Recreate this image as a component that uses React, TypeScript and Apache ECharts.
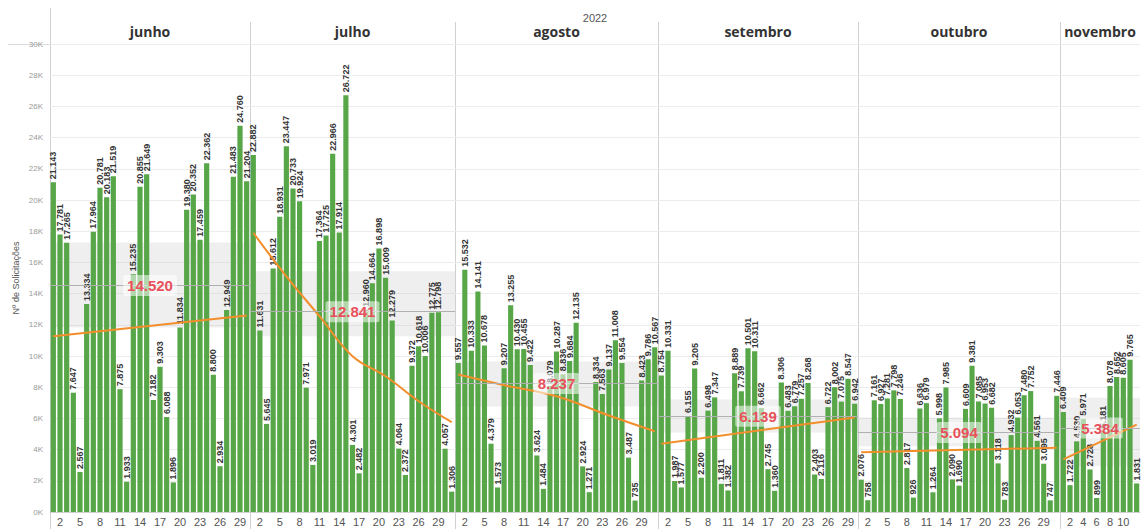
import React, { useEffect, useRef } from "react";
import * as echarts from "echarts";

// ---------- data ----------
const months = ["junho", "julho", "agosto", "setembro", "outubro", "novembro"];

const junho = [21143, 17781, 17265, 7647, 2567, 13334, 17964, 20781, 20183, 21519, 7875, 1933, 15235, 20855, 21649, 7182, 9303, 6088, 1896, 11834, 19380, 20352, 17459, 22362, 8800, 2934, 12949, 21483, 24760, 21204];
const julho = [22882, 11631, 5645, 15612, 18931, 23447, 20733, 19924, 7971, 3019, 17364, 17725, 22966, 17914, 26722, 4301, 2482, 12960, 14664, 16898, 15009, 12279, 4064, 2372, 9372, 10618, 10006, 12775, 12798, 4057, 1306];
const agosto = [9557, 15532, 10333, 14141, 10678, 4379, 1573, 9207, 13255, 10430, 10455, 9422, 3624, 1484, 8079, 10287, 8836, 9684, 12135, 2924, 1271, 8334, 7563, 9137, 11008, 9554, 3487, 735, 8423, 9786, 10567];
const setembro = [8754, 10331, 1987, 1577, 6155, 9205, 2200, 6498, 7347, 1811, 1382, 8889, 7739, 10501, 10311, 6662, 2745, 1360, 8306, 6483, 6779, 7257, 8268, 2403, 2116, 6722, 8002, 7075, 8547, 6942];
const outubro = [2076, 758, 7161, 6927, 7281, 7798, 7246, 2817, 926, 6636, 6979, 1264, 5998, 7985, 2090, 1690, 6609, 9381, 7085, 6953, 6682, 3118, 783, 4932, 6053, 7480, 7752, 4561, 3095, 747, 7446];
const novembro = [6409, 1722, 4530, 5971, 2728, 899, 5181, 8078, 8652, 8605, 9765, 1831];

const monthValues = [junho, julho, agosto, setembro, outubro, novembro];

// monthly average (reference line) and its band
const monthAverage = [14520, 12841, 8237, 6139, 5094, 5384];
const bandLow = [11830, 11270, 6760, 5100, 4220, 2940];
const bandHigh = [17280, 15440, 9650, 7210, 6060, 7320];

// trend lines: [day, value]
const trendJunho = [[1, 11270], [30, 12600]];
const trendJulho = [[1, 17900], [6, 15100], [11, 12550], [16, 9990], [21, 8700], [26, 7100], [31, 5760]];
const trendAgosto = [[1, 8810], [8, 8130], [16, 7420], [24, 6190], [31, 5180]];
const trendSetembro = [[1, 4370], [30, 6060]];
const trendOutubro = [[1, 3830], [31, 4120]];
const trendNovembro = [[1, 3370], [12, 5600]];
const monthTrends = [trendJunho, trendJulho, trendAgosto, trendSetembro, trendOutubro, trendNovembro];
const trendSmooth = [false, true, true, false, false, false];

// day tick labels shown under each month
const tickDays = [
  [2, 5, 8, 11, 14, 17, 20, 23, 26, 29],
  [2, 5, 8, 11, 14, 17, 20, 23, 26, 29],
  [2, 5, 8, 11, 14, 17, 20, 23, 26, 29],
  [2, 5, 8, 11, 14, 17, 20, 23, 26, 29],
  [2, 5, 8, 11, 14, 17, 20, 23, 26, 29],
  [2, 4, 6, 8, 10],
];
const yearLabel = "2022";
const yAxisTitle = "Nº de Solicitações";

// ---------- layout ----------
const BOUNDS = [50, 250, 455, 658, 858, 1060, 1140];
const TOP = 44;
const PLOT_H = 468;

const fmt = (v: number) => String(Math.round(v)).replace(/\B(?=(\d{3})+(?!\d))/g, ".");

export default function App() {
  const ref = useRef<HTMLDivElement>(null);

  useEffect(() => {
    if (!ref.current) return;
    const chart = echarts.init(ref.current, undefined, { renderer: "svg" });
    const n = months.length;

    const grids = months.map((_, i) => ({
      left: BOUNDS[i],
      top: TOP,
      width: BOUNDS[i + 1] - BOUNDS[i],
      height: PLOT_H,
    }));

    const daysOf = (i: number) => monthValues[i].map((_, k) => String(k + 1));

    const bottomAxes = months.map((_, i) => ({
      type: "category",
      gridIndex: i,
      data: daysOf(i),
      axisTick: { show: false },
      axisLine: { show: true, lineStyle: { color: "#d0d0d0" } },
      axisLabel: {
        interval: (_idx: number, value: string) => tickDays[i].includes(Number(value)),
        fontSize: 11,
        color: "#555",
        margin: 4,
        fontFamily: "Liberation Sans",
      },
    }));
    const topAxes = months.map((m, i) => ({
      type: "category",
      gridIndex: i,
      position: "top",
      data: daysOf(i),
      axisLine: { show: false },
      axisTick: { show: false },
      axisLabel: { show: false },
      name: m,
      nameLocation: "middle",
      nameGap: 6,
      nameTextStyle: { fontSize: 14, fontWeight: "bold", color: "#333", fontFamily: "Open Sans" },
    }));

    const yAxes = months.map((_, i) => ({
      type: "value",
      gridIndex: i,
      min: 0,
      max: 30000,
      interval: 2000,
      axisLine: { show: false },
      axisTick: { show: false },
      axisLabel: {
        show: i === 0,
        formatter: (v: number) => v / 1000 + "K",
        fontSize: 8,
        color: "#999",
        margin: 7,
        fontFamily: "Liberation Sans",
      },
      splitLine: { lineStyle: { color: "#ececec" } },
      name: i === 0 ? yAxisTitle : "",
      nameLocation: "middle",
      nameGap: 30,
      nameTextStyle: { fontSize: 9, color: "#555", fontFamily: "Liberation Sans" },
    }));

    const series: any[] = [];
    months.forEach((_, i) => {
      series.push({
        type: "bar",
        xAxisIndex: i,
        yAxisIndex: i,
        data: monthValues[i],
        barCategoryGap: "22%",
        itemStyle: { color: "#57a648" },
        label: {
          show: true,
          position: "top",
          rotate: 90,
          align: "left",
          verticalAlign: "middle",
          distance: 3,
          fontSize: 9,
          fontWeight: "bold",
          color: "#333",
          fontFamily: "Liberation Sans",
          formatter: (p: any) => fmt(p.value),
        },
        markArea: {
          silent: true,
          itemStyle: { color: "rgba(190,190,190,0.25)" },
          data: [[{ yAxis: bandLow[i] }, { yAxis: bandHigh[i] }]],
        },
        markLine: {
          silent: true,
          symbol: "none",
          lineStyle: { color: "#b0b0b0", width: 1, type: "solid" },
          label: {
            show: true,
            position: "middle",
            distance: 0,
            verticalAlign: "middle",
            formatter: fmt(monthAverage[i]),
            color: "#e8505b",
            fontSize: 15,
            fontWeight: "bold",
            fontFamily: "Liberation Sans",
            backgroundColor: "rgba(255,255,255,0.55)",
            padding: [3, 4],
            borderRadius: 2,
          },
          data: [{ yAxis: monthAverage[i] }],
        },
      });
      series.push({
        type: "line",
        xAxisIndex: i,
        yAxisIndex: i,
        data: monthTrends[i].map(([d, v]) => [d - 1, v]),
        smooth: trendSmooth[i] ? 0.4 : false,
        symbol: "none",
        silent: true,
        z: 4,
        lineStyle: { color: "#f28e2b", width: 2 },
      });
    });

    const graphics: any[] = [
      {
        type: "text",
        x: (BOUNDS[0] + BOUNDS[n]) / 2,
        y: 18,
        silent: true,
        style: {
          text: yearLabel,
          align: "center",
          verticalAlign: "middle",
          textAlign: "center",
          textVerticalAlign: "middle",
          fontSize: 11,
          fill: "#555",
          fontFamily: "Liberation Sans",
        },
      },
      {
        type: "line",
        silent: true,
        shape: { x1: BOUNDS[0] + 0.5, y1: 8, x2: BOUNDS[0] + 0.5, y2: 529 },
        style: { stroke: "#d0d0d0", lineWidth: 1 },
      },
      {
        type: "line",
        silent: true,
        shape: { x1: 8, y1: TOP + 0.5, x2: BOUNDS[n], y2: TOP + 0.5 },
        style: { stroke: "#dcdcdc", lineWidth: 1 },
      },
    ];
    for (let i = 1; i < n; i++) {
      graphics.push({
        type: "line",
        silent: true,
        shape: { x1: BOUNDS[i] + 0.5, y1: 22, x2: BOUNDS[i] + 0.5, y2: 529 },
        style: { stroke: "#d0d0d0", lineWidth: 1 },
      });
    }

    chart.setOption({
      animation: false,
      backgroundColor: "#ffffff",
      grid: grids,
      xAxis: [...bottomAxes, ...topAxes],
      yAxis: yAxes,
      series,
      graphic: graphics,
    });

    return () => chart.dispose();
  }, []);

  return (
    <div
      ref={ref}
      style={{ position: "absolute", left: 0, top: 0, width: 1145, height: 529 }}
    />
  );
}
